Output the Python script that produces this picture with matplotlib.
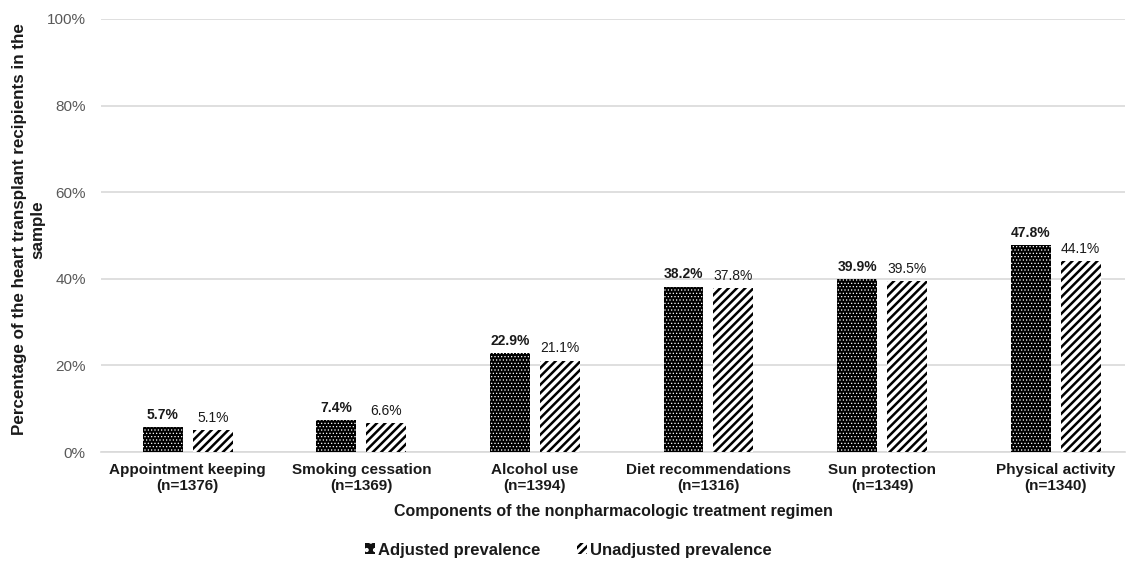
import numpy as np
import matplotlib.pyplot as plt
from matplotlib.patches import Patch

plt.rcParams['font.family'] = ['Liberation Sans', 'DejaVu Sans']

categories = ["Appointment keeping\n(n=1376)", "Smoking cessation\n(n=1369)",
              "Alcohol use\n(n=1394)", "Diet recommendations\n(n=1316)",
              "Sun protection\n(n=1349)", "Physical activity\n(n=1340)"]
adjusted = [5.7, 7.4, 22.9, 38.2, 39.9, 47.8]
unadjusted = [5.1, 6.6, 21.1, 37.8, 39.5, 44.1]

fig = plt.figure(figsize=(11.37, 5.61), dpi=100)
ax = fig.add_axes([101 / 1137, 109 / 561, 1024 / 1137, 433 / 561])

x = np.arange(len(categories))
w = 0.23
off = 0.144

# black bars with fine white dots
plt.rcParams['hatch.linewidth'] = 0.5
b1 = ax.bar(x - off, adjusted, w, facecolor='black', edgecolor='white',
            hatch='.....', linewidth=0, label='Adjusted prevalence', zorder=3)
# legend square for the dotted bars (dots make it look grey when tiny)
h1 = Patch(facecolor='#111111', edgecolor='white', hatch='..', linewidth=0,
           label='Adjusted prevalence')
# white bars with thick black diagonals
plt.rcParams['hatch.linewidth'] = 1.8
b2 = ax.bar(x + off, unadjusted, w, facecolor='white', edgecolor='black',
            hatch='////', linewidth=0, label='Unadjusted prevalence', zorder=3)

for xi, v in zip(x - off, adjusted):
    ax.text(xi, v + 1.2, f"{v:.1f}%", ha='center', va='bottom', fontsize=10,
            fontweight='bold', color='#1a1a1a')
for xi, v in zip(x + off, unadjusted):
    ax.text(xi, v + 1.2, f"{v:.1f}%", ha='center', va='bottom', fontsize=10,
            color='#1a1a1a')

ax.set_xlim(-0.5, 5.4)
ax.set_ylim(0, 100)
ax.set_yticks(range(0, 101, 20))
ax.set_yticklabels([f"{t}%" for t in range(0, 101, 20)])
ax.set_xticks(x)
ax.set_xticklabels(categories, fontweight='bold', fontsize=11, color='#1a1a1a',
                   va='baseline')
ax.tick_params(axis='y', labelsize=11, labelcolor='#595959', length=0, pad=11)
ax.tick_params(axis='x', length=0, pad=27.5)
ax.grid(axis='y', color='#d9d9d9', linewidth=1.2, zorder=0)
for s in ['top', 'right', 'left']:
    ax.spines[s].set_visible(False)
ax.spines['bottom'].set_color('#d9d9d9')
ax.spines['bottom'].set_linewidth(1.2)

ax.set_xlabel("Components of the nonpharmacologic treatment regimen",
              fontweight='bold', fontsize=11.5, color='#1a1a1a')
ax.xaxis.set_label_coords(0.5, -0.121)
ax.set_ylabel("Percentage of the heart transplant recipients in the\nsample",
              fontweight='bold', fontsize=12.25, color='#1a1a1a',
              linespacing=1.28)
ax.yaxis.set_label_coords(-0.0547, 0.514)

leg = fig.legend(handles=[h1, b2], loc='center', bbox_to_anchor=(0.5, 11 / 561),
                 ncol=2, frameon=False, prop={'weight': 'bold', 'size': 12},
                 handlelength=0.6, handleheight=0.6, handletextpad=0.2,
                 columnspacing=2.2)
for t in leg.get_texts():
    t.set_color('#1a1a1a')

fig.savefig('out.png', dpi=100)
